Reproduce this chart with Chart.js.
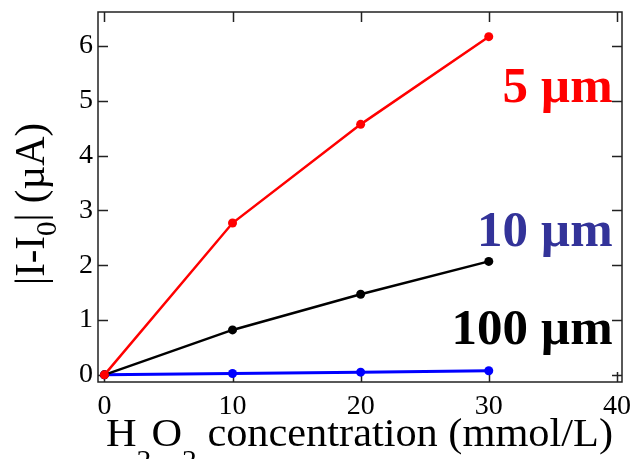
<!DOCTYPE html>
<html>
<head>
<meta charset="utf-8">
<script src="https://cdn.jsdelivr.net/npm/chart.js@4/dist/chart.umd.min.js"></script>
<style>
html,body{margin:0;padding:0;background:#fff;}
#wrap{width:632px;height:459px;}
</style>
</head>
<body>
<div id="wrap"><canvas id="c" width="632" height="459"></canvas></div>
<script>
// ---- data ----
const concentrations = [0, 10, 20, 30];          // mmol/L
const current5um   = [0, 2.77, 4.57, 6.17];      // µA
const current10um  = [0, 0.025, 0.05, 0.075];    // µA
const current100um = [0, 0.82, 1.47, 2.07];      // µA
const xTickValues = [0, 10, 20, 30, 40];
const yTickValues = [0, 1, 2, 3, 4, 5, 6];
const seriesNames = ['5 µm', '10 µm', '100 µm'];

// ---- styles ----
const SERIF = '"Liberation Serif", "Times New Roman", Times, serif';
const RED = '#ff0000', BLUE = '#0000ff', BLACK = '#000000', LABELBLUE = '#333399';
Chart.defaults.font.family = SERIF;
Chart.defaults.color = '#000';

function pts(ys){ return concentrations.map((c,i)=>({x:c, y:ys[i]})); }
function ds(name, ys, color, width){
  return {label:name, data:pts(ys), borderColor:color, backgroundColor:color,
    pointBackgroundColor:color, pointBorderColor:color, pointRadius:4.5, pointBorderWidth:0,
    borderWidth:width, tension:0, fill:false, clip:false};
}

function drawRich(ctx, parts, mainSize, subSize, subOffset, targetWidth, bold){
  const fw = bold ? 'bold ' : '';
  let total = 0;
  parts.forEach(p=>{
    ctx.font = fw + (p.sub?subSize:mainSize) + 'px ' + SERIF;
    p.w = ctx.measureText(p.t).width; total += p.w;
  });
  const sx = targetWidth ? targetWidth/total : 1;
  ctx.save();
  ctx.scale(sx,1);
  let x = 0;
  parts.forEach(p=>{
    ctx.font = fw + (p.sub?subSize:mainSize) + 'px ' + SERIF;
    ctx.fillText(p.t, x, p.sub?subOffset:0);
    x += p.w;
  });
  ctx.restore();
}

const decorPlugin = {
  id:'decor',
  beforeDatasetsDraw(chart){
    const {ctx, chartArea:a, scales:{x, y}} = chart;
    ctx.save();
    ctx.strokeStyle = '#222';
    ctx.lineWidth = 1.5;
    ctx.strokeRect(a.left, a.top, a.right-a.left, a.bottom-a.top);
    ctx.beginPath();
    const L = 10;
    xTickValues.forEach(v=>{
      const px = Math.round(x.getPixelForValue(v))+0.5;
      ctx.moveTo(px, a.bottom); ctx.lineTo(px, a.bottom-L);
      ctx.moveTo(px, a.top); ctx.lineTo(px, a.top+L);
    });
    yTickValues.forEach(v=>{
      const py = Math.round(y.getPixelForValue(v))+0.5;
      ctx.moveTo(a.left, py); ctx.lineTo(a.left+L, py);
      ctx.moveTo(a.right, py); ctx.lineTo(a.right-L, py);
    });
    ctx.stroke();
    ctx.restore();
  },
  afterDraw(chart){
    const {ctx, scales:{x, y}} = chart;
    ctx.save();
    ctx.fillStyle = '#000';
    ctx.textBaseline = 'alphabetic';
    ctx.textAlign = 'left';
    // x axis title
    ctx.save();
    ctx.translate(106, 445.5);
    drawRich(ctx, [{t:'H'},{t:'2',sub:true},{t:'O'},{t:'2',sub:true},{t:' concentration (mmol/L)'}], 40, 28, 23, 507);
    ctx.restore();
    // y axis title
    ctx.save();
    ctx.translate(44, 285);
    ctx.rotate(-Math.PI/2);
    drawRich(ctx, [{t:'|I-I'},{t:'0',sub:true},{t:'| (µA)'}], 42, 30, 12, 162);
    ctx.restore();
    // series labels
    ctx.textAlign = 'right';
    ctx.font = 'bold 51px ' + SERIF;
    const lx = x.getPixelForValue(39.67);
    ctx.fillStyle = RED;       ctx.fillText(seriesNames[0], lx, y.getPixelForValue(4.98));
    ctx.fillStyle = LABELBLUE; ctx.fillText(seriesNames[1], lx, y.getPixelForValue(2.35));
    ctx.fillStyle = BLACK;     ctx.fillText(seriesNames[2], lx, y.getPixelForValue(0.555));
    ctx.restore();
  }
};

const tickFont = {family:SERIF, size:28, style:'normal', weight:'normal'};

new Chart(document.getElementById('c'), {
  type:'line',
  data:{ datasets:[
    ds(seriesNames[0], current5um, RED, 2.5),
    ds(seriesNames[2], current100um, BLACK, 2.5),
    ds(seriesNames[1], current10um, BLUE, 3)
  ]},
  options:{
    responsive:false, animation:false, devicePixelRatio:1,
    layout:{padding:{top:12, right:10, left:0, bottom:0}},
    plugins:{legend:{display:false}, tooltip:{enabled:false}},
    scales:{
      x:{type:'linear', min:-0.5, max:40.4,
        afterBuildTicks(s){ s.ticks = xTickValues.map(v=>({value:v})); },
        afterFit(s){ s.height = 77; s.paddingLeft = 0; s.paddingRight = 0; },
        grid:{display:false, drawTicks:false}, border:{display:false},
        ticks:{font:tickFont, color:'#000', padding:8, maxRotation:0, minRotation:0, autoSkip:false}},
      y:{type:'linear', min:-0.13, max:6.62,
        afterBuildTicks(s){ s.ticks = yTickValues.map(v=>({value:v})); },
        afterFit(s){ s.width = 98; s.paddingTop = 0; s.paddingBottom = 0; },
        grid:{display:false, drawTicks:false}, border:{display:false},
        ticks:{font:tickFont, color:'#000', padding:5, autoSkip:false}}
    }
  },
  plugins:[decorPlugin]
});
</script>
</body>
</html>
